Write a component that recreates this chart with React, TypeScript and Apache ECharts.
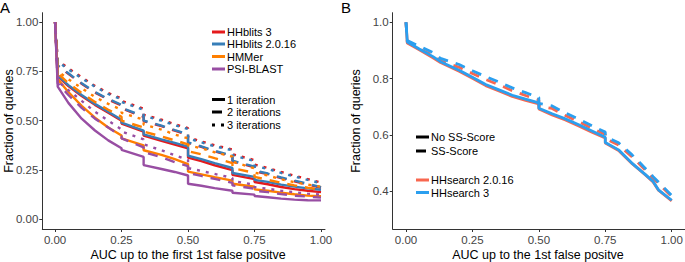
import React, { useEffect, useRef } from "react";
import * as echarts from "echarts";

const FONT = "'Liberation Sans', Arial, Helvetica, sans-serif";

// ---------- Panel A data ----------
const aX = [0, 0.01, 0.05, 0.1, 0.15, 0.2, 0.25, 0.25, 0.333, 0.333, 0.4, 0.45, 0.5, 0.5, 0.55, 0.6, 0.667, 0.667, 0.75, 0.75, 0.8, 0.85, 0.9, 0.95, 1.0];
const aTicks = [0, 0.25, 0.5, 0.75, 1.0];

const hhb3Solid = [1.0, 0.725, 0.675, 0.625, 0.58, 0.54, 0.5, 0.485, 0.444, 0.424, 0.398, 0.379, 0.36, 0.313, 0.295, 0.274, 0.249, 0.225, 0.204, 0.189, 0.178, 0.164, 0.153, 0.145, 0.138];
const hhb3Dashed = [1.0, 0.777, 0.737, 0.687, 0.642, 0.607, 0.577, 0.562, 0.519, 0.497, 0.472, 0.449, 0.429, 0.387, 0.367, 0.344, 0.319, 0.294, 0.264, 0.244, 0.229, 0.209, 0.193, 0.177, 0.16];
const hhb3Dotted = [1.0, 0.805, 0.765, 0.72, 0.676, 0.64, 0.612, 0.6, 0.56, 0.53, 0.505, 0.482, 0.462, 0.415, 0.395, 0.375, 0.354, 0.33, 0.3, 0.277, 0.26, 0.24, 0.221, 0.204, 0.187];

const hhb2Solid = [1.0, 0.73, 0.68, 0.63, 0.585, 0.545, 0.505, 0.49, 0.45, 0.43, 0.405, 0.387, 0.368, 0.322, 0.305, 0.285, 0.26, 0.235, 0.215, 0.2, 0.19, 0.176, 0.166, 0.157, 0.15];
const hhb2Dashed = [1.0, 0.78, 0.74, 0.69, 0.645, 0.61, 0.58, 0.565, 0.522, 0.5, 0.475, 0.452, 0.432, 0.39, 0.37, 0.347, 0.322, 0.297, 0.267, 0.247, 0.232, 0.212, 0.196, 0.18, 0.163];
const hhb2Dotted = [1.0, 0.8, 0.76, 0.715, 0.672, 0.635, 0.608, 0.595, 0.555, 0.525, 0.5, 0.477, 0.458, 0.41, 0.39, 0.37, 0.35, 0.325, 0.295, 0.272, 0.255, 0.235, 0.217, 0.2, 0.183];

const hmmSolid = [1.0, 0.71, 0.645, 0.575, 0.515, 0.465, 0.425, 0.41, 0.375, 0.35, 0.327, 0.305, 0.28, 0.242, 0.228, 0.214, 0.196, 0.18, 0.165, 0.152, 0.145, 0.135, 0.127, 0.12, 0.117];
const hmmDashed = [1.0, 0.74, 0.69, 0.64, 0.595, 0.555, 0.52, 0.5, 0.465, 0.445, 0.42, 0.4, 0.38, 0.345, 0.33, 0.31, 0.285, 0.26, 0.235, 0.215, 0.2, 0.185, 0.172, 0.16, 0.15];
const hmmDotted = [1.0, 0.75, 0.71, 0.665, 0.62, 0.585, 0.555, 0.54, 0.505, 0.48, 0.455, 0.43, 0.41, 0.375, 0.36, 0.34, 0.318, 0.292, 0.258, 0.237, 0.222, 0.203, 0.188, 0.176, 0.165];

const psiSolid = [1.0, 0.672, 0.59, 0.51, 0.45, 0.4, 0.36, 0.352, 0.316, 0.275, 0.255, 0.24, 0.222, 0.18, 0.17, 0.158, 0.145, 0.135, 0.125, 0.118, 0.112, 0.105, 0.1, 0.097, 0.096];
const psiDashed = [1.0, 0.69, 0.63, 0.565, 0.51, 0.465, 0.42, 0.41, 0.365, 0.34, 0.315, 0.29, 0.27, 0.235, 0.22, 0.205, 0.185, 0.172, 0.155, 0.145, 0.138, 0.128, 0.12, 0.115, 0.11];
const psiDotted = [1.0, 0.7, 0.655, 0.6, 0.545, 0.5, 0.455, 0.445, 0.405, 0.38, 0.35, 0.325, 0.3, 0.26, 0.245, 0.23, 0.21, 0.195, 0.175, 0.163, 0.155, 0.145, 0.137, 0.13, 0.125];

const aTools = ["HHblits 3", "HHblits 2.0.16", "HMMer", "PSI-BLAST"];
const aColors = ["#e41a1c", "#377eb8", "#ff7f00", "#984ea3"];
const aIterations = ["1 iteration", "2 iterations", "3 iterations"];
const aValues = [
  [hhb3Solid, hhb3Dashed, hhb3Dotted],
  [hhb2Solid, hhb2Dashed, hhb2Dotted],
  [hmmSolid, hmmDashed, hmmDotted],
  [psiSolid, psiDashed, psiDotted],
];
const aXTitle = "AUC up to the first 1st false positve";
const yTitle = "Fraction of queries";

// ---------- Panel B data ----------
const bX = [0, 0.005, 0.05, 0.1, 0.13, 0.2, 0.25, 0.3, 0.35, 0.4, 0.45, 0.5, 0.5, 0.55, 0.6, 0.65, 0.7, 0.75, 0.75, 0.8, 0.85, 0.9, 0.93, 0.95, 1.0];
const bXTicks = [0, 0.25, 0.5, 0.75, 1.0];
const bYTicks = [0.4, 0.6, 0.8, 1.0];

const hhs2NoSS = [1.0, 0.926, 0.902, 0.875, 0.857, 0.826, 0.801, 0.775, 0.756, 0.737, 0.723, 0.71, 0.692, 0.671, 0.653, 0.632, 0.61, 0.589, 0.571, 0.545, 0.499, 0.459, 0.433, 0.404, 0.366];
const hhs2SS = [1.0, 0.928, 0.906, 0.884, 0.863, 0.84, 0.818, 0.797, 0.778, 0.757, 0.74, 0.724, 0.703, 0.694, 0.669, 0.647, 0.623, 0.602, 0.587, 0.564, 0.523, 0.476, 0.446, 0.428, 0.381];
const hhs3NoSS = [1.0, 0.93, 0.905, 0.879, 0.86, 0.83, 0.805, 0.779, 0.76, 0.741, 0.727, 0.714, 0.695, 0.675, 0.657, 0.636, 0.614, 0.592, 0.573, 0.547, 0.5, 0.46, 0.435, 0.405, 0.368];
const hhs3SS = [1.0, 0.935, 0.915, 0.893, 0.872, 0.85, 0.828, 0.807, 0.788, 0.767, 0.75, 0.733, 0.712, 0.703, 0.678, 0.656, 0.632, 0.61, 0.595, 0.572, 0.53, 0.482, 0.452, 0.433, 0.385];

const bTools = ["HHsearch 2.0.16", "HHsearch 3"];
const bColors = ["#f8674f", "#2b9fef"];
const bScoring = ["No SS-Score", "SS-Score"];
const bValues = [
  [hhs2NoSS, hhs2SS],
  [hhs3NoSS, hhs3SS],
];
const bXTitle = "AUC up to the 1st false positve";

const DASHES: any[] = ["solid", [10, 8], [3, 6]];

function axisBase(extra: any) {
  return {
    type: "value",
    splitLine: { show: false },
    axisLine: { show: true, onZero: false, lineStyle: { color: "#333", width: 1 } },
    ...extra,
  };
}

export default function App() {
  const ref = useRef<HTMLDivElement>(null);

  useEffect(() => {
    const chart = echarts.init(ref.current!, null, { renderer: "svg" });

    const series: any[] = [];
    aValues.forEach((group, t) => {
      group.forEach((vals, k) => {
        series.push({
          type: "line",
          name: `${aTools[t]} – ${aIterations[k]}`,
          xAxisIndex: 0,
          yAxisIndex: 0,
          data: aX.map((x, i) => [x, vals[i]]),
          symbol: "none",
          silent: true,
          lineStyle: { color: aColors[t], width: 2.4, type: DASHES[k], cap: "butt" },
          itemStyle: { color: aColors[t] },
        });
      });
    });
    bValues.forEach((group, t) => {
      group.forEach((vals, k) => {
        series.push({
          type: "line",
          name: `${bTools[t]} – ${bScoring[k]}`,
          xAxisIndex: 1,
          yAxisIndex: 1,
          data: bX.map((x, i) => [x, vals[i]]),
          symbol: "none",
          silent: true,
          lineStyle: { color: bColors[t], width: 2.8, type: DASHES[k], cap: "butt" },
          itemStyle: { color: bColors[t] },
        });
      });
    });

    const labelStyle = { color: "#444", fontSize: 11.5, fontFamily: FONT };
    const tick = (vals: number[]) => ({ show: true, length: 3, customValues: vals, lineStyle: { color: "#333", width: 1 } });
    const graphic: any[] = [];
    const txt = (text: string, x: number, y: number, size = 11) => ({
      type: "text",
      x,
      y,
      style: { text, fill: "#000", fontSize: size, fontFamily: FONT, verticalAlign: "middle", align: "left" },
    });
    const title = (text: string, x: number, y: number, rotate: boolean) => ({
      type: "text",
      x,
      y,
      rotation: rotate ? Math.PI / 2 : 0,
      style: { text, fill: "#000", fontSize: 12.5, fontFamily: FONT, verticalAlign: "middle", align: "center" },
    });
    const key = (x: number, y: number, color: string, dash: any, w = 3) => ({
      type: "line",
      shape: { x1: x, y1: y, x2: x + 13, y2: y },
      style: { stroke: color, lineWidth: w, lineDash: dash === "solid" ? null : dash, lineCap: "butt" },
    });

    // Panel labels
    graphic.push({ type: "text", x: 0, y: 0, style: { text: "A", fill: "#000", fontSize: 15, fontFamily: FONT, verticalAlign: "top" } });
    graphic.push({ type: "text", x: 341, y: 0, style: { text: "B", fill: "#000", fontSize: 15, fontFamily: FONT, verticalAlign: "top" } });

    // Axis titles
    graphic.push(title(aXTitle, 188, 254.5, false));
    graphic.push(title(bXTitle, 538, 254.5, false));
    graphic.push(title(yTitle, 9, 121, true));
    graphic.push(title(yTitle, 356, 121, true));

    // Panel A legends
    const aLegY = [32, 44, 56.5, 69];
    aTools.forEach((name, i) => {
      graphic.push(key(212, aLegY[i], aColors[i], "solid"));
      graphic.push(txt(name, 227, aLegY[i]));
    });
    const aIterY = [99.5, 112, 125];
    aIterations.forEach((name, i) => {
      graphic.push(key(212, aIterY[i], "#000", DASHES[i]));
      graphic.push(txt(name, 227, aIterY[i]));
    });

    // Panel B legends
    const bScY = [137, 151];
    bScoring.forEach((name, i) => {
      graphic.push(key(416, bScY[i], "#000", DASHES[i]));
      graphic.push(txt(name, 431, bScY[i]));
    });
    const bToolY = [180, 192.5];
    bTools.forEach((name, i) => {
      graphic.push(key(416, bToolY[i], bColors[i], "solid"));
      graphic.push(txt(name, 431, bToolY[i]));
    });

    chart.setOption({
      animation: false,
      backgroundColor: "#fff",
      grid: [
        { left: 42.3, top: 12.7, width: 282.7, height: 216.3, containLabel: false, outerBoundsMode: "none" },
        { left: 392.7, top: 12.7, width: 292.3, height: 216.3, containLabel: false, outerBoundsMode: "none" },
      ],
      xAxis: [
        axisBase({
          gridIndex: 0,
          min: -0.048,
          max: 1.015,
          axisTick: tick(aTicks),
          axisLabel: { ...labelStyle, margin: 5, customValues: aTicks, formatter: (v: number) => v.toFixed(2) },
        }),
        axisBase({
          gridIndex: 1,
          min: -0.05,
          max: 1.05,
          axisTick: tick(bXTicks),
          axisLabel: { ...labelStyle, margin: 5, customValues: bXTicks, formatter: (v: number) => v.toFixed(2) },
        }),
      ],
      yAxis: [
        axisBase({
          gridIndex: 0,
          min: -0.049,
          max: 1.047,
          axisTick: tick(aTicks),
          axisLabel: { ...labelStyle, margin: 4, customValues: aTicks, formatter: (v: number) => v.toFixed(2) },
        }),
        axisBase({
          gridIndex: 1,
          min: 0.266,
          max: 1.034,
          axisTick: tick(bYTicks),
          axisLabel: { ...labelStyle, margin: 4, customValues: bYTicks, formatter: (v: number) => v.toFixed(1) },
        }),
      ],
      series,
      graphic,
    });

    return () => chart.dispose();
  }, []);

  return (
    <div
      ref={ref}
      style={{ position: "fixed", left: 0, top: 0, width: 685, height: 262, background: "#fff" }}
    />
  );
}
